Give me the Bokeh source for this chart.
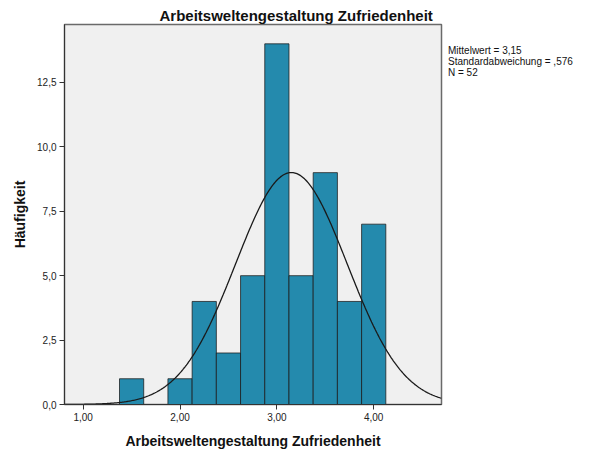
import numpy as np
from bokeh.plotting import figure
from bokeh.models import Range1d, FixedTicker, ColumnDataSource, Legend, LegendItem
from bokeh.embed import file_html
from bokeh.resources import INLINE

# ---- data ----
bin_centers = [1.50, 2.00, 2.25, 2.50, 2.75, 3.00, 3.25, 3.50, 3.75, 4.00]
counts = [1, 1, 4, 2, 5, 14, 5, 9, 4, 7]
bin_width = 0.25
mean_val = 3.15
sd_val = 0.576
n_val = 52
x_ticks = [1, 2, 3, 4]
x_tick_labels = ["1,00", "2,00", "3,00", "4,00"]
y_ticks = [0, 2.5, 5, 7.5, 10, 12.5]
y_tick_labels = ["0,0", "2,5", "5,0", "7,5", "10,0", "12,5"]
title_text = "Arbeitsweltengestaltung Zufriedenheit"
x_label = "Arbeitsweltengestaltung Zufriedenheit"
y_label = "Häufigkeit"
stats_lines = ["Mittelwert = 3,15", "Standardabweichung = ,576", "N = 52"]

FONT = "Liberation Sans"
X0, X1 = 0.807, 4.70
Y0, Y1 = 0.0, 14.75

bars = ColumnDataSource(dict(
    left=[c - bin_width / 2 for c in bin_centers],
    right=[c + bin_width / 2 for c in bin_centers],
    top=counts,
))

# fitted normal curve from the stated statistics
xs = np.linspace(X0, X1, 400)
ys = n_val * bin_width / (sd_val * np.sqrt(2 * np.pi)) * np.exp(-0.5 * ((xs - mean_val) / sd_val) ** 2)
curve = ColumnDataSource(dict(x=xs, y=ys))

p = figure(frame_width=377, frame_height=380,
           min_border_left=64, min_border_right=120,
           min_border_top=24, min_border_bottom=46,
           x_range=Range1d(X0, X1), y_range=Range1d(Y0, Y1),
           output_backend="svg", toolbar_location=None)

p.background_fill_color = "#F0F0F0"
p.border_fill_color = "white"
p.outline_line_color = "#6a6a6a"
p.outline_line_width = 1.5
p.xgrid.visible = False
p.ygrid.visible = False

# title
p.title.text = title_text
p.title.align = "left"
p.title.offset = 95
p.title.standoff = 2
p.title.text_font = FONT
p.title.text_font_size = "15px"
p.title.text_font_style = "bold"
p.title.text_color = "#111111"

p.quad(left="left", right="right", top="top", bottom=0, source=bars,
       fill_color="#248AAD", line_color="#1a1a1a", line_alpha=0.75, line_width=1)
curve_r = p.line("x", "y", source=curve, line_color="#1a1a1a", line_width=1.3)

for ax, ticks, labels in ((p.xaxis[0], x_ticks, x_tick_labels), (p.yaxis[0], y_ticks, y_tick_labels)):
    ax.ticker = FixedTicker(ticks=ticks)
    ax.major_label_overrides = {t: l for t, l in zip(ticks, labels)}
    ax.minor_tick_line_color = None
    ax.major_tick_in = 0
    ax.major_tick_out = 5
    ax.major_tick_line_color = "#333333"
    ax.axis_line_color = "#333333"
    ax.major_label_text_font = FONT
    ax.major_label_text_font_size = "10px"
    ax.major_label_text_color = "#222222"
    ax.major_label_standoff = 3
    ax.axis_label_text_font = FONT
    ax.axis_label_text_font_size = "14px"
    ax.axis_label_text_font_style = "bold"
    ax.axis_label_text_color = "#111111"

p.xaxis.axis_label = x_label
p.xaxis.axis_label_standoff = 9
p.yaxis.axis_label = y_label
p.yaxis.axis_label_standoff = 6

# statistics text, placed in the right-hand margin
legend = Legend(items=[LegendItem(label=s, renderers=[curve_r]) for s in stats_lines],
                location=(7, 326), glyph_width=0, glyph_height=8, label_standoff=0,
                label_height=8, spacing=-1, padding=0, margin=0,
                border_line_color=None, background_fill_alpha=0,
                label_text_font=FONT, label_text_font_size="10px",
                label_text_color="#111111", click_policy="none")
p.add_layout(legend, "right")

open("out.html", "w").write(file_html(p, INLINE))
